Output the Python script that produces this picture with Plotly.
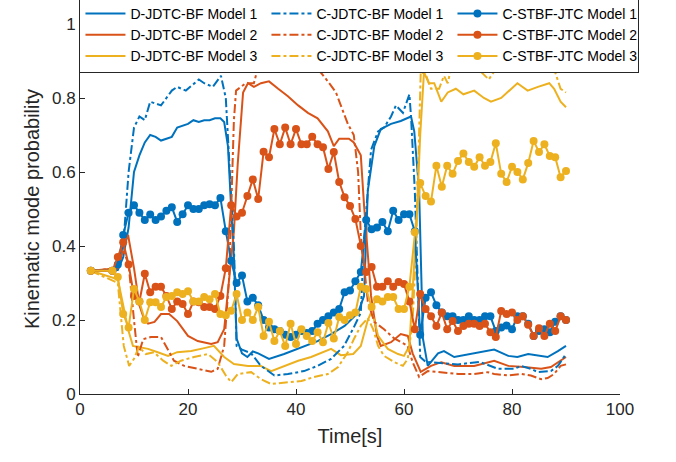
import plotly.graph_objects as go

# ---------------- data ----------------
t_d1 = [2, 7, 8, 9, 10, 11, 12, 13, 14, 15, 16, 17, 18, 19, 20, 21, 22, 23, 24, 25, 26, 26.7, 27.4, 28, 28.5,
        29, 30, 31, 32, 33, 35, 37.8, 41, 44, 46.5, 49, 51.5, 52.6, 53.3, 54.5, 55.7, 57.6, 59.4, 61.3, 61.9,
        62.8, 63.5, 64.4, 66.3, 67.4, 69.3, 73, 76.7, 79.3, 81, 83, 86.6, 88.5, 90]
v_d1 = [.333, .335, .37, .45, .60, .645, .68, .70, .695, .685, .69, .695, .72, .725, .73, .74, .735, .74, .74, .745,
        .745, .735, .67, .50, .37, .15, .11, .10, .115, .11, .095, .108, .127, .143, .162, .184, .22, .265, .55,
        .67, .716, .73, .738, .75, .71, .55, .15, .076, .11, .116, .10, .11, .12, .103, .10, .108, .10, .116, .13]

t_c1 = [2, 7, 8, 9, 10, 11, 12, 13, 15, 17, 18, 19.6, 22, 23, 24.6, 25.5, 26.1, 27, 27.6, 28.5, 29, 30, 31.7,
        33.5, 36, 38.5, 41.5, 44, 46.5, 48.9, 50.7, 52, 52.6, 53.9, 55.2, 56.3, 57.6, 58.5, 59.8, 61, 61.3, 62,
        63, 64, 70, 74, 77.4, 80.4, 81.7, 83.5, 84.8, 87.2, 88.5, 90]
v_c1 = [.333, .335, .40, .60, .72, .75, .74, .79, .78, .82, .83, .82, .85, .84, .83, .85, .86, .80, .64, .40,
        .13, .12, .11, .076, .05, .054, .062, .076, .095, .13, .18, .22, .42, .66, .71, .72, .75, .78, .76, .81,
        .75, .55, .10, .087, .08, .087, .068, .068, .076, .068, .059, .062, .076, .108]

t_s = [2] + list(range(6, 91))
v_s1 = [.333, .333, .35, .43, .49, .51, .49, .47, .485, .47, .48, .495, .505, .465, .486, .51, .50, .50, .51,
        .513, .51, .53, .44, .36, .30, .32, .25, .26, .24, .20, .18, .175, .17, .16, .154, .16, .17, .165, .17,
        .19, .20, .21, .22, .23, .275, .28, .305, .33, .47, .445, .45, .465, .44, .495, .47, .486, .486, .44,
        .16, .26, .275, .24, .22, .21, .21, .20, .20, .21, .20, .20, .21, .21, .17, .18, .185, .175, .21, .21,
        .19, .157, .17, .175, .167, .195, .21, .20]

t_d2 = [2, 7, 8, 8.9, 10, 11, 11.7, 12.6, 13.8, 15, 16.5, 18, 20, 21.8, 24.3, 25.5, 26.7, 27.6, 28.5, 29.2, 30.2,
        31.1, 32.2, 33.5, 35, 36.7, 38.5, 40.4, 42.2, 44, 45.9, 47, 48, 49.8, 50.7, 52, 52.6, 53.9, 55, 55.7,
        57.6, 59.4, 60.7, 61.6, 63.1, 65, 66.9, 69.3, 73, 76.7, 79.3, 82.2, 85.4, 87.2, 89, 90]
v_d2 = [.333, .34, .40, .43, .34, .24, .21, .19, .195, .216, .216, .197, .157, .143, .135, .14, .175, .31, .44,
        .62, .815, .84, .83, .84, .845, .825, .805, .78, .76, .745, .71, .67, .69, .69, .68, .645, .51, .265,
        .157, .13, .14, .162, .157, .11, .06, .076, .086, .076, .076, .09, .076, .073, .068, .073, .09, .10]

t_c2 = [2, 7, 8, 9, 10, 10.7, 11.7, 13.1, 15, 16.3, 17.4, 19.3, 21.8, 24.3, 25.5, 26.7, 27.6, 28.5, 28.9, 30.7,
        32.2, 33.1, 34, 36, 40, 42, 43.3, 44, 45.9, 47.4, 48.3, 49.6, 50.7, 51.5, 52, 53.3, 54.5, 56.3, 58.2,
        59.4, 60.7, 61.6, 62.8, 64.4, 66.9, 70, 73, 75.5, 76.7, 79.3, 81.7, 83.5, 85.4, 86.6, 87.8, 89, 90]
v_c2 = [.333, .34, .39, .35, .20, .10, .148, .154, .154, .12, .09, .076, .068, .06, .068, .13, .31, .74, .82,
        .84, .84, .89, .92, .95, .93, .90, .90, .88, .845, .815, .78, .73, .70, .60, .43, .25, .195, .175, .15,
        .14, .13, .086, .046, .062, .059, .054, .054, .059, .054, .05, .054, .05, .04, .043, .054, .076, .08]

v_s2 = [.333, .333, .37, .41, .35, .265, .25, .325, .275, .29, .29, .265, .23, .25, .243, .216, .25, .248, .235,
        .235, .23, .265, .34, .51, .48, .49, .535, .58, .527, .655, .64, .716, .675, .72, .675, .716, .675, .675,
        .695, .675, .667, .608, .654, .573, .532, .508, .473, .40, .33, .343, .29, .29, .305, .29, .303, .297,
        .25, .175, .27, .23, .21, .184, .22, .175, .197, .17, .184, .19, .19, .184, .19, .167, .154, .224, .216,
        .22, .20, .21, .187, .157, .178, .157, .19, .17, .21, .20]

t_d3 = [2, 7, 8, 8.9, 9.8, 10.7, 12.6, 14.4, 16.3, 18, 20.6, 23, 24.8, 26.7, 28.5, 31.1, 33.5, 35.4, 37.8, 40.4,
        42.8, 45.2, 46.5, 48.3, 50.6, 52, 53.3, 53.9, 54.5, 55.2, 57, 58.9, 60, 61, 61.6, 62.2, 63, 63.7, 64.6,
        65.6, 66.9, 68.1, 69.6, 71, 73, 74.8, 76.1, 78, 81, 82.9, 84.8, 86.9, 87.8, 89, 90]
v_d3 = [.333, .31, .24, .175, .13, .127, .122, .113, .103, .113, .116, .124, .13, .10, .081, .076, .076, .062,
        .076, .09, .10, .113, .122, .105, .108, .13, .20, .22, .20, .157, .122, .108, .103, .13, .29, .43, .70,
        .87, .84, .84, .79, .815, .825, .81, .82, .80, .79, .80, .84, .82, .83, .84, .825, .79, .775]

t_c3 = [2, 7, 8.1, 9.1, 10, 10.9, 12.2, 13.7, 15.4, 16.9, 18.7, 21.1, 23.7, 25.5, 27, 28, 29.2, 31.7, 33.5, 35.4,
        38.5, 41, 43.3, 45.9, 47.8, 49.6, 50.7, 52, 53.3, 54.3, 55.2, 56.3, 58.2, 59.8, 60.7, 61.6, 62.2, 63.1,
        64, 65, 66.5, 67.4, 68.1, 68.7, 71.9, 74.3, 75.7, 77.4, 80.4, 81.7, 83, 84.4, 85.4, 86.7, 87.6, 89, 90]
v_c3 = [.333, .30, .13, .076, .095, .127, .108, .113, .09, .076, .09, .10, .108, .086, .05, .032, .054, .059,
        .04, .027, .032, .035, .046, .054, .073, .113, .148, .184, .205, .175, .13, .103, .086, .076, .095, .20,
        .38, .87, .865, .825, .825, .86, .84, .88, .887, .87, .85, .887, .884, .87, .887, .887, .90, .897, .887,
        .825, .815]

v_s3 = [.333, .333, .316, .216, .18, .284, .25, .20, .248, .248, .235, .262, .265, .275, .27, .278, .25, .25,
        .262, .256, .27, .216, .213, .225, .27, .20, .22, .20, .235, .157, .195, .143, .17, .13, .19, .135, .175,
        .157, .143, .167, .14, .192, .15, .208, .20, .213, .22, .29, .284, .235, .256, .25, .262, .262, .23,
        .23, .29, .437, .57, .535, .52, .617, .56, .617, .595, .63, .65, .627, .614, .64, .617, .627, .678,
        .595, .573, .614, .60, .58, .624, .684, .654, .675, .643, .64, .586, .603]

x_ticks = [0, 20, 40, 60, 80, 100]
y_ticks = [0, 0.2, 0.4, 0.6, 0.8, 1]
y_ticktext = ["0", "0.2", "0.4", "0.6", "0.8", "1"]

BLUE, ORANGE, YELLOW = "#0072BD", "#D95319", "#EDB120"

# (name, t, v, colour, style, legend rank) in MATLAB drawing order
series = [
    ("D-JDTC-BF Model 1", t_d1, v_d1, BLUE, "solid", 1),
    ("D-JDTC-BF Model 2", t_d2, v_d2, ORANGE, "solid", 4),
    ("D-JDTC-BF Model 3", t_d3, v_d3, YELLOW, "solid", 7),
    ("C-JDTC-BF Model 1", t_c1, v_c1, BLUE, "dashdot", 2),
    ("C-JDTC-BF Model 2", t_c2, v_c2, ORANGE, "dashdot", 5),
    ("C-JDTC-BF Model 3", t_c3, v_c3, YELLOW, "dashdot", 8),
    ("C-STBF-JTC Model 1", t_s, v_s1, BLUE, "marker", 3),
    ("C-STBF-JTC Model 2", t_s, v_s2, ORANGE, "marker", 6),
    ("C-STBF-JTC Model 3", t_s, v_s3, YELLOW, "marker", 9),
]

FONT = "Liberation Sans, Arial, Helvetica, sans-serif"
fig = go.Figure()
for name, t, v, col, style, rank in series:
    if style == "marker":
        fig.add_trace(go.Scatter(x=t, y=v, name=name, mode="lines+markers",
                                 line=dict(color=col, width=2),
                                 marker=dict(color=col, size=8, symbol="circle"),
                                 legendrank=rank))
    else:
        fig.add_trace(go.Scatter(x=t, y=v, name=name, mode="lines",
                                 line=dict(color=col, width=2, dash=style),
                                 legendrank=rank))

axis_common = dict(showgrid=False, zeroline=False, showline=True, linecolor="#262626", linewidth=1,
                   ticks="inside", ticklen=5, tickcolor="#262626", tickwidth=1,
                   tickfont=dict(family=FONT, size=17, color="#262626"), mirror=False)

fig.update_layout(
    width=676, height=462,
    margin=dict(l=80, r=56, t=24, b=68, autoexpand=False),
    paper_bgcolor="white", plot_bgcolor="white",
    font=dict(family=FONT, color="#262626"),
    xaxis=dict(range=[0, 100], tickvals=x_ticks,
               title=dict(text="Time[s]", font=dict(family=FONT, size=20, color="#262626"), standoff=10),
               **axis_common),
    yaxis=dict(range=[0, 1], tickvals=y_ticks, ticktext=y_ticktext,
               title=dict(text="Kinematic mode probability", font=dict(family=FONT, size=20, color="#262626"),
                          standoff=6),
               **axis_common),
    legend=dict(orientation="h", x=-0.001, xanchor="left", y=1.073, yanchor="top",
                bgcolor="white", bordercolor="#262626", borderwidth=1,
                font=dict(family=FONT, size=14, color="#000000"),
                entrywidth=131, entrywidthmode="pixels", tracegroupgap=0, itemwidth=40),
    showlegend=True,
)

fig.write_html("out.html")
